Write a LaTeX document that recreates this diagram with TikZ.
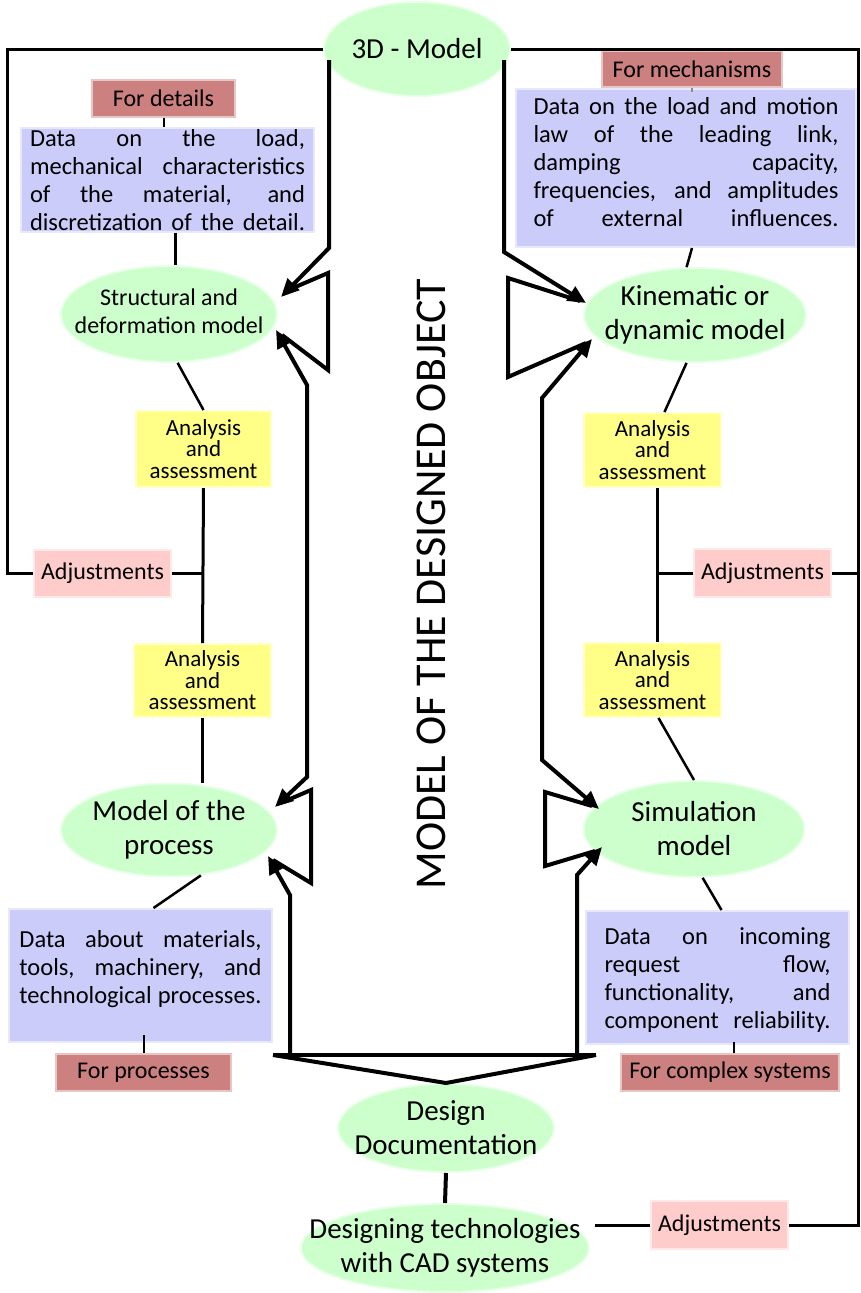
\documentclass[tikz,border=0pt]{standalone}
\usepackage{fontspec}
\setmainfont{Carlito}
\usetikzlibrary{shapes.geometric,arrows.meta}
\definecolor{gr}{RGB}{204,255,204}
\definecolor{bl}{RGB}{204,204,250}
\definecolor{ye}{RGB}{255,255,136}
\definecolor{pk}{RGB}{255,204,204}
\definecolor{rd}{RGB}{205,128,128}
\newcommand\jl[2]{\makebox[#1][s]{#2}}
\begin{document}
\begin{tikzpicture}[x=1pt,y=-1pt,
 soft/.style={fill=#1, draw=#1, draw opacity=0.45, line width=4pt},
 ell/.style={ellipse, soft=gr, inner sep=0pt},
 box/.style={rectangle, soft=#1, inner sep=0pt, align=center},
 bigtxt/.style={font=\fontsize{29}{34}\selectfont, align=center, inner sep=0pt},
 midtxt/.style={font=\fontsize{24}{28}\selectfont},
 anatxt/.style={font=\fontsize{23}{21.5}\selectfont},
 bluetxt/.style={font=\fontsize{24.5}{28}\selectfont, align=center, inner sep=0pt},
 frame/.style={line width=3pt},
 arr/.style={line width=4pt, -{Triangle[length=18pt,width=16pt]}},
 arrtwo/.style={line width=4pt, {Triangle[length=18pt,width=16pt]}-{Triangle[length=18pt,width=16pt]}},
 brk/.style={line width=4pt},
 conn/.style={line width=2.5pt},
 tick/.style={line width=2pt},
]
\useasboundingbox (0,0) rectangle (860,1293);

% ---------- ellipses ----------
\node[ell, minimum width=184pt, minimum height=92pt, label={[bigtxt]center:3D - Model}] (tdm) at (417,49) {};
\node[ell, minimum width=214pt, minimum height=94pt, label={[bigtxt,font=\fontsize{24}{28}\selectfont,yshift=3pt]center:Structural and\\deformation model}] (sm) at (169,314) {};
\node[ell, minimum width=220pt, minimum height=92pt, label={[bigtxt]center:Kinematic or\\dynamic model}] (km) at (695,315) {};
\node[ell, minimum width=214pt, minimum height=91pt, label={[bigtxt]center:Model of the\\process}] (pp) at (169,830) {};
\node[ell, minimum width=219pt, minimum height=94pt, label={[bigtxt]center:Simulation\\model}] (sim) at (694,829) {};
\node[ell, minimum width=214pt, minimum height=86pt, label={[bigtxt]center:Design\\Documentation}] (dd) at (446,1128) {};
\node[ell, minimum width=286pt, minimum height=86pt, label={[bigtxt]center:Designing technologies\\with CAD systems}] (dt) at (445,1248) {};

% ---------- boxes ----------
\node[box=rd, minimum width=141pt, minimum height=35pt, midtxt] (fdet) at (163.5,98.5) {For details};
\node[box=bl, minimum width=291pt, minimum height=100pt, bluetxt] (bLT) at (167.5,180)
 {\jl{275pt}{Data on the load,}\\\jl{275pt}{mechanical characteristics}\\\jl{275pt}{of the material, and}\\\jl{275pt}{discretization of the detail.}};
\node[box=rd, minimum width=178pt, minimum height=34pt, midtxt] (fmech) at (692,69) {For mechanisms};
\node[box=bl, minimum width=338pt, minimum height=156pt,
 label={[bluetxt,yshift=6pt]center:\jl{305pt}{Data on the load and motion}\\\jl{305pt}{law of the leading link,}\\\jl{305pt}{damping capacity,}\\\jl{305pt}{frequencies, and amplitudes}\\\jl{305pt}{of external influences.}}] (bRT) at (686,168) {};
\node[box=ye, minimum width=133pt, minimum height=74pt, anatxt] (aLT) at (203.5,449) {Analysis\\and\\assessment};
\node[box=pk, minimum width=135pt, minimum height=45pt, midtxt] (adjL) at (102.5,573) {Adjustments};
\node[box=ye, minimum width=135pt, minimum height=71pt, anatxt] (aLB) at (202.5,680.5) {Analysis\\and\\assessment};
\node[box=ye, minimum width=135pt, minimum height=72pt, anatxt] (aRT) at (652.5,450) {Analysis\\and\\assessment};
\node[box=pk, minimum width=135pt, minimum height=46pt, midtxt] (adjR) at (762.5,573) {Adjustments};
\node[box=ye, minimum width=135pt, minimum height=72pt, anatxt] (aRB) at (652.5,680) {Analysis\\and\\assessment};
\node[box=bl, minimum width=261pt, minimum height=131pt,
 label={[bluetxt,yshift=6pt]center:\jl{242pt}{Data about materials,}\\\jl{242pt}{tools, machinery, and}\\\jl{242pt}{technological processes.}}] (bLB) at (140.5,975.5) {};
\node[box=rd, minimum width=173pt, minimum height=35pt, midtxt] (fproc) at (143.5,1072.5) {For processes};
\node[box=bl, minimum width=261pt, minimum height=131pt,
 label={[bluetxt,yshift=-3pt]center:\jl{226pt}{Data on incoming}\\\jl{226pt}{request flow,}\\\jl{226pt}{functionality, and}\\\jl{226pt}{component reliability.}}] (bRB) at (717.5,977.5) {};
\node[box=rd, minimum width=216pt, minimum height=35pt, midtxt] (fcs) at (730,1072.5) {For complex systems};
\node[box=pk, minimum width=135pt, minimum height=46pt, midtxt] (adjB) at (719.5,1225) {Adjustments};

\node[rotate=90, font=\fontsize{44}{50}\selectfont, inner sep=0pt] (title) at (431,584) {MODEL OF THE DESIGNED OBJECT};

% ---------- frame lines ----------
\coordinate (fTL) at (7,49);
\coordinate (fTR) at (858,49);
\draw[frame] (tdm.west) -- (fTL) |- (adjL.west);
\draw[frame] (tdm.east) -- (fTR) |- (adjB.east);
\draw[frame] (adjR.east) -- (adjR.east -| fTR);
\draw[frame] (aLT.south) -- (aLB.north);
\draw[frame] (adjL.east) -- (adjL.east -| aLT.south);
\coordinate (rv) at ([xshift=5pt]aRT.south);
\coordinate (rvb) at ([xshift=5pt]aRB.north);
\draw[frame] (rv) -- (rvb);
\draw[frame] (adjR.west) -- (adjR.west -| rv);
\coordinate (dtR) at ([xshift=5pt]dt.east);
\draw[frame] (adjB.west) -- (adjB.west -| dtR);

% ---------- thin connectors ----------
\draw[tick] (fdet.south) -- (fdet.south |- bLT.north);
\coordinate (c1) at ([xshift=8pt]bLT.south);
\draw[conn] (c1) -- (c1 |- sm.north);
\draw[conn] (sm.-80) -- (aLT.north);
\draw[conn] (aLB.south) -- (aLB.south |- pp.north);
\coordinate (c2) at ([xshift=13pt]bLB.north);
\draw[conn] (pp.-55) -- (c2);
\draw[tick] (fproc.north) -- ([yshift=18pt]fproc.north);

\draw[line width=1.5pt, black!45] (fmech.south) -- ([yshift=-4pt]fmech.south);
\coordinate (c3) at ([xshift=6pt]bRT.south);
\draw[conn] (c3) -- (km.100);
\coordinate (c4) at ([xshift=12pt]aRT.north);
\draw[conn] (km.-100) -- (c4);
\coordinate (c5) at ([xshift=6pt]aRB.south);
\draw[conn] (c5) -- (sim.north);
\coordinate (c6) at ([xshift=4pt]bRB.north);
\draw[conn] (sim.-80) -- (c6);
\coordinate (c7) at ([xshift=4pt]fcs.north);
\draw[tick] (c7) -- ([yshift=11pt]c7);
\draw[line width=4pt] (dd.south) -- (dt.north);

% ---------- big arrows ----------
\coordinate (p1) at (329,60);  \coordinate (p2) at (329,248); \coordinate (tA) at (281,297);
\coordinate (p3) at (504,60);  \coordinate (p4) at (504,252); \coordinate (tE) at (586,303);
\coordinate (q1) at (307,385); \coordinate (q2) at (307,777);
\coordinate (tB) at (276,330); \coordinate (tC) at (275,807);
\coordinate (r1) at (290,1055); \coordinate (r2) at (290,895); \coordinate (tD) at (268,856);
\coordinate (s1) at (542,398); \coordinate (s2) at (542,760);
\coordinate (tF) at (592,339); \coordinate (tG) at (599,809);
\coordinate (u1) at (577,1055); \coordinate (u2) at (577,875); \coordinate (tH) at (602,847);

\draw[arr] (p1) -- (p2) -- (tA);
\draw[arr] (p3) -- (p4) -- (tE);
\draw[arrtwo] (tB) -- (q1) -- (q2) -- (tC);
\draw[arr] (r1) -- (r2) -- (tD);
\draw[arrtwo] (tF) -- (s1) -- (s2) -- (tG);
\draw[arr] (u1) -- (u2) -- (tH);

% ---------- brackets ----------
\coordinate (k1) at (286,291); \coordinate (k2) at (328,273); \coordinate (k3) at (328,370); \coordinate (k4) at (282,335);
\draw[brk] (k1) -- (k2) -- (k3) -- (k4);
\coordinate (l1) at (283,802); \coordinate (l2) at (311,790); \coordinate (l3) at (311,883); \coordinate (l4) at (273,860);
\draw[brk] (l1) -- (l2) -- (l3) -- (l4);
\coordinate (m1) at (580,301); \coordinate (m2) at (508,278); \coordinate (m3) at (508,377); \coordinate (m4) at (586,343);
\draw[brk] (m1) -- (m2) -- (m3) -- (m4);
\coordinate (n1) at (592,806); \coordinate (n2) at (545,792); \coordinate (n3) at (545,866); \coordinate (n4) at (595,851);
\draw[brk] (n1) -- (n2) -- (n3) -- (n4);

% ---------- bottom V ----------
\coordinate (vL) at (273,1055); \coordinate (vR) at (596,1055);
\draw[brk] (vL) -- (vR);
\draw[brk, line join=round] (vL) -- (dd.north) -- (vR);
\end{tikzpicture}
\end{document}
